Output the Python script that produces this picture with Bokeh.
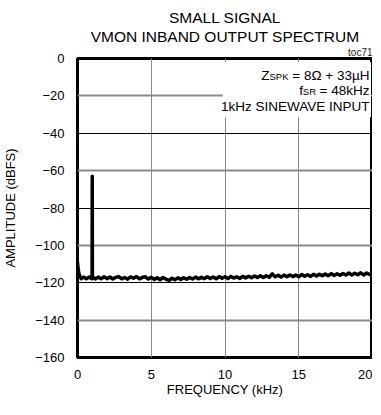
from bokeh.plotting import figure
from bokeh.models import FixedTicker, Grid, Label, BoxAnnotation, Title
from bokeh.embed import file_html
from bokeh.resources import INLINE

FONT = "Liberation Sans"

# ---- data ----
freq_khz = [0.0, 0.03, 0.08, 0.15, 0.25, 0.4, 0.6, 0.8, 0.95, 0.99, 1.0, 1.01, 1.05,
            1.2, 1.4, 1.6, 1.8, 2.0, 2.2, 2.4, 2.6, 2.8, 3.0, 3.2, 3.4, 3.6, 3.8,
            4.0, 4.2, 4.4, 4.6, 4.8, 5.0, 5.2, 5.4, 5.6, 5.8, 6.0, 6.2, 6.4, 6.6,
            6.8, 7.0, 7.2, 7.4, 7.6, 7.8, 8.0, 8.2, 8.4, 8.6, 8.8, 9.0, 9.2, 9.4,
            9.6, 9.8, 10.0, 10.2, 10.4, 10.6, 10.8, 11.0, 11.2, 11.4, 11.6, 11.8,
            12.0, 12.2, 12.4, 12.6, 12.8, 13.0, 13.2, 13.4, 13.6, 13.8, 14.0, 14.2,
            14.4, 14.6, 14.8, 15.0, 15.2, 15.4, 15.6, 15.8, 16.0, 16.2, 16.4, 16.6,
            16.8, 17.0, 17.2, 17.4, 17.6, 17.8, 18.0, 18.2, 18.4, 18.6, 18.8, 19.0,
            19.2, 19.4, 19.6, 19.8, 20.0]
amplitude_dbfs = [-109.0, -111.5, -114.5, -116.5, -117.8, -117.0, -117.9, -116.9, -117.8, -117.0, -63.0, -117.8, -117.0,
                  -118.0, -117.0, -117.9, -116.8, -117.8, -116.9, -118.0, -117.1, -116.7, -117.9, -117.2, -118.1, -116.9, -117.6,
                  -116.7, -117.9, -117.1, -116.8, -118.0, -117.1, -118.2, -117.3, -118.4, -117.2, -118.1, -118.8, -117.6, -118.4,
                  -117.4, -118.2, -117.3, -118.1, -117.2, -118.0, -117.0, -117.9, -117.1, -117.8, -116.8, -117.7, -116.9, -117.9,
                  -116.7, -117.6, -116.8, -117.8, -116.6, -117.5, -116.8, -117.7, -116.6, -117.4, -116.5, -117.3,
                  -116.4, -117.2, -116.3, -117.2, -116.2, -117.1, -115.2, -116.8, -116.0, -117.0, -115.9, -116.8,
                  -115.8, -116.7, -115.9, -116.8, -115.6, -116.5, -115.7, -116.6, -115.5, -116.4, -115.4, -116.3,
                  -115.3, -116.2, -115.1, -116.1, -115.2, -116.0, -115.0, -115.9, -114.8, -115.8, -114.9, -115.7,
                  -114.7, -115.8, -114.8, -115.6, -115.2]

x_ticks = [0, 5, 10, 15, 20]
y_ticks = [0, -20, -40, -60, -80, -100, -120, -140, -160]
grey_grid_levels = [-20, -60, -100, -140]
black_grid_levels = [-40, -80, -120]

title_lines = ["SMALL SIGNAL", "VMON INBAND OUTPUT SPECTRUM"]
chart_code = "toc71"
x_label = "FREQUENCY (kHz)"
y_label = "AMPLITUDE (dBFS)"

p = figure(width=372, height=399, x_range=(0, 20), y_range=(-160, 0),
           output_backend="svg", toolbar_location=None, title=None,
           min_border_left=69, min_border_right=0, min_border_top=58, min_border_bottom=0)
p.background_fill_color = "white"
p.border_fill_color = "white"
p.outline_line_color = "black"
p.outline_line_width = 3

# titles (added from the plot outward)
p.add_layout(Title(text=chart_code, align="right", text_font=FONT, text_font_size="10px",
                   text_font_style="normal", text_color="#222222", standoff=1), "above")
p.add_layout(Title(text=title_lines[1], align="center", text_font=FONT, text_font_size="15.5px",
                   text_font_style="normal", text_color="black", standoff=0), "above")
p.add_layout(Title(text=title_lines[0], align="center", text_font=FONT, text_font_size="15.5px",
                   text_font_style="normal", text_color="black", standoff=0), "above")

# axes
for ax in (p.xaxis[0], p.yaxis[0]):
    ax.axis_line_color = None
    ax.major_tick_line_color = None
    ax.minor_tick_line_color = None
    ax.major_tick_out = 0
    ax.major_tick_in = 0
    ax.major_label_text_font = FONT
    ax.major_label_text_font_size = "13px"
    ax.major_label_text_color = "black"
    ax.axis_label_text_font = FONT
    ax.axis_label_text_font_size = "13px"
    ax.axis_label_text_font_style = "normal"
    ax.axis_label_text_color = "black"

p.xaxis.ticker = FixedTicker(ticks=x_ticks)
p.yaxis.ticker = FixedTicker(ticks=y_ticks)
p.xaxis.axis_label = x_label
p.yaxis.axis_label = y_label
p.xaxis.major_label_standoff = 12
p.yaxis.major_label_standoff = 13
p.xaxis.axis_label_standoff = 0
p.yaxis.axis_label_standoff = 14

# grids
p.xgrid.ticker = FixedTicker(ticks=x_ticks)
p.xgrid.grid_line_color = "#8a8a8a"
p.xgrid.grid_line_width = 1
p.ygrid.grid_line_color = None
p.add_layout(Grid(dimension=1, ticker=FixedTicker(ticks=grey_grid_levels),
                  grid_line_color="#8a8a8a", grid_line_width=2))
p.add_layout(Grid(dimension=1, ticker=FixedTicker(ticks=black_grid_levels),
                  grid_line_color="black", grid_line_width=1))

# spectrum
p.line(freq_khz, amplitude_dbfs, line_color="black", line_width=3.5, line_join="round")

# white box behind the condition notes
p.add_layout(BoxAnnotation(left=9.85, right=19.9, top=-2.0, bottom=-31.5,
                           fill_color="white", fill_alpha=1.0, line_color=None))

main_sz = "13.5px"
sub_sz = "9.5px"
def note(text, y, xoff, size, yoff=0):
    p.add_layout(Label(x=20, y=y, x_offset=xoff, y_offset=yoff, text=text,
                       text_align="right", text_baseline="alphabetic",
                       text_font=FONT, text_font_size=size, text_color="black"))

# line 1: Z_SPK = 8Ω + 33µH
note("= 8\u03a9 + 33\u00b5H", -9.0, -3, main_sz)
note("SPK", -9.0, -84, sub_sz, -1)
note("Z", -9.0, -103, main_sz)
# line 2: f_SR = 48kHz
note("= 48kHz", -17.0, -3, main_sz)
note("SR", -17.0, -56.5, sub_sz, -1)
note("f", -17.0, -69.5, main_sz)
# line 3
note("1kHz SINEWAVE INPUT", -25.6, -3, main_sz)

open("out.html", "w").write(file_html(p, INLINE))
